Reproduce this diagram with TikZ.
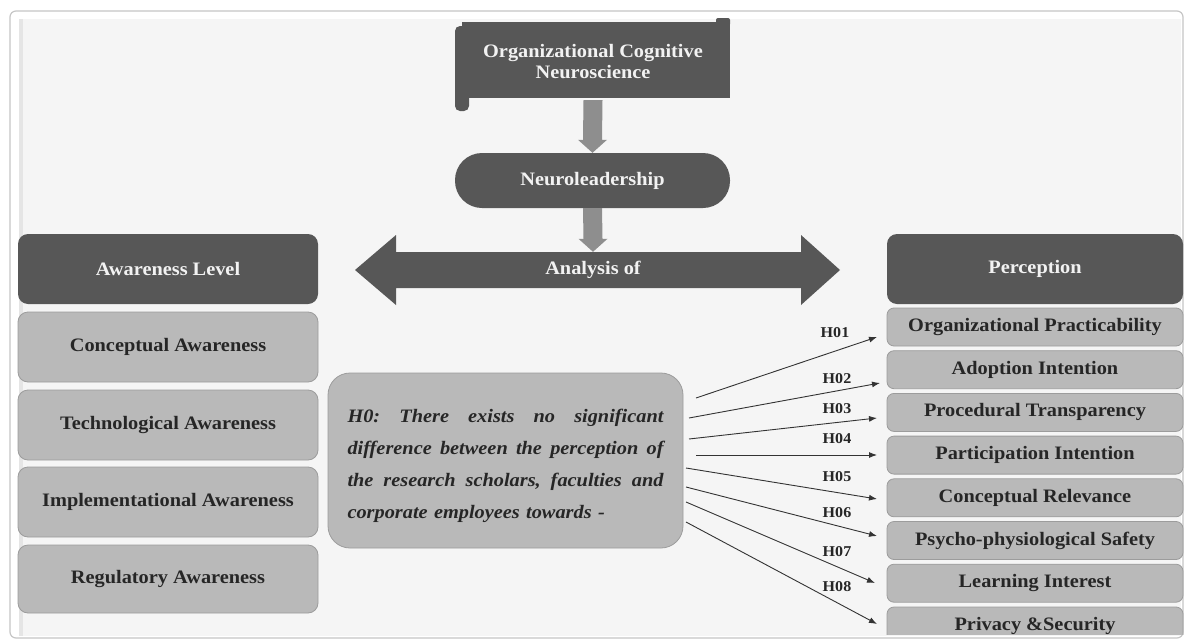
\documentclass[tikz,border=0pt]{standalone}
\usepackage{fontspec}
\setmainfont{Liberation Serif}[FakeStretch=1.07]
\usetikzlibrary{arrows.meta,calc}
\definecolor{darkbox}{HTML}{575757}
\definecolor{lightbox}{HTML}{B9B9B9}
\definecolor{lightedge}{HTML}{9C9C9C}
\definecolor{panel}{HTML}{F5F5F5}
\definecolor{blockarrow}{HTML}{8E8E8E}
\definecolor{linkcol}{HTML}{333333}
\definecolor{textdark}{HTML}{262626}
\definecolor{textlight}{HTML}{F2F2F2}
\definecolor{framecol}{HTML}{C6C6C6}
\newcommand{\gap}{\hspace{0pt plus 1fill}}
\newcommand{\jline}[1]{\leavevmode\hbox to 316pt{#1}}
\begin{document}
\begin{tikzpicture}[x=1pt,y=-1pt,
  bigfont/.style={font=\bfseries\fontsize{19}{21}\selectfont},
  darkhead/.style={rectangle, rounded corners=10, fill=darkbox, draw=none,
    minimum width=300, minimum height=70, text=textlight, bigfont, inner sep=0},
  awbox/.style={rectangle, rounded corners=10, fill=lightbox, draw=lightedge, line width=0.8,
    minimum width=300, minimum height=70, text=textdark, bigfont, inner sep=0},
  pbox/.style={rectangle, rounded corners=7, fill=lightbox, draw=lightedge, line width=0.8,
    minimum width=296, minimum height=38, text=textdark, bigfont, inner sep=0},
  hlabel/.style={font=\bfseries\fontsize{15}{17}\selectfont, text=textdark, inner sep=0},
  link/.style={draw=linkcol, line width=0.9, -{Latex[length=8,width=6]}},
  blockarr/.style={fill=blockarrow, draw=none}
]
\useasboundingbox (0,0) rectangle (1187,643);
\fill[white] (0,0) rectangle (1187,643);
\draw[rounded corners=6, draw=framecol, line width=1.2] (10,11) rectangle (1183,638);
\fill[panel] (19,19) rectangle (1181,636);
\fill[black!10] (19,19) rectangle (23,636);

% top scroll
\fill[darkbox] (462,22) rectangle (730,98);
\fill[darkbox, rounded corners=5] (455,26) rectangle (469,111);
\fill[darkbox, rounded corners=2] (716,18) rectangle (730,26);
\node[minimum width=275, minimum height=76, inner sep=0, text=textlight, bigfont, align=center]
  (ocn) at (593,62) {Organizational Cognitive\\Neuroscience};

% neuroleadership
\node[rectangle, rounded corners=27, fill=darkbox, minimum width=275, minimum height=55,
  inner sep=0, text=textlight, bigfont] (neuro) at (592.5,180.5) {Neuroleadership};

% double arrow
\fill[darkbox] (355,270) -- (396,235) -- (396,252) -- (801,252) -- (801,235) -- (840,270)
  -- (801,305) -- (801,288) -- (396,288) -- (396,305) -- cycle;
\node[minimum width=400, minimum height=36, inner sep=0, text=textlight, bigfont]
  (ana) at (593,270) {Analysis of};

% block arrows
\fill[blockarr] ($(ocn.south)+(-9.5,0)$) -- ($(neuro.north)+(-9.5,-13)$) -- ($(neuro.north)+(-14.5,-13)$)
  -- (neuro.north) -- ($(neuro.north)+(14.5,-13)$) -- ($(neuro.north)+(9.5,-13)$)
  -- ($(ocn.south)+(9.5,0)$) -- cycle;
\fill[blockarr] ($(neuro.south)+(-9.5,0)$) -- ($(ana.north)+(-9.5,-13)$) -- ($(ana.north)+(-14.5,-13)$)
  -- (ana.north) -- ($(ana.north)+(14.5,-13)$) -- ($(ana.north)+(9.5,-13)$)
  -- ($(neuro.south)+(9.5,0)$) -- cycle;

% left column
\node[darkhead] (awl) at (168,269) {Awareness Level};
\node[awbox] (aw1) at (168,347) {Conceptual Awareness};
\node[awbox] (aw2) at (168,425) {Technological Awareness};
\node[awbox] (aw3) at (168,502) {Implementational Awareness};
\node[awbox, minimum height=68] (aw4) at (168,579) {Regulatory Awareness};

% right column
\node[darkhead, minimum width=296] (per) at (1035,269) {Perception};
\node[pbox] (p1) at (1035,327) {Organizational Practicability};
\node[pbox] (p2) at (1035,369.7) {Adoption Intention};
\node[pbox] (p3) at (1035,412.4) {Procedural Transparency};
\node[pbox] (p4) at (1035,455.1) {Participation Intention};
\node[pbox] (p5) at (1035,497.8) {Conceptual Relevance};
\node[pbox] (p6) at (1035,540.5) {Psycho-physiological Safety};
\node[pbox] (p7) at (1035,583.2) {Learning Interest};
\begin{scope}
\clip (880,600) rectangle (1190,634);
\node[pbox] (p8) at (1035,626) {Privacy \&Security};
\end{scope}

% hypothesis box
\node[rectangle, rounded corners=22, fill=lightbox, draw=lightedge, line width=0.8,
  minimum width=355, minimum height=175] (h0) at (505.5,460.5) {};
\node[text width=316, align=left, text=textdark, inner sep=0,
  font=\bfseries\itshape\fontsize{19}{32}\selectfont] (h0text) at ($(h0.center)+(0,5)$)
  {\jline{H0:\gap There\gap exists\gap no\gap significant}\\
   \jline{difference\gap between\gap the\gap perception\gap of}\\
   \jline{the\gap research\gap scholars,\gap faculties\gap and}\\
   corporate employees towards -};

% links
\coordinate (s1) at (696,398); \coordinate (e1) at (877,337);
\coordinate (s2) at (689,418); \coordinate (e2) at (880,383);
\coordinate (s3) at (689,439); \coordinate (e3) at (877,418);
\coordinate (s4) at (696,455); \coordinate (e4) at (877,455);
\coordinate (s5) at (686,468); \coordinate (e5) at (877,499);
\coordinate (s6) at (686,487); \coordinate (e6) at (877,536);
\coordinate (s7) at (686,502); \coordinate (e7) at (875,583);
\coordinate (s8) at (686,522); \coordinate (e8) at (877,624);
\foreach \i in {1,...,8} \draw[link] (s\i) -- (e\i);

\node[hlabel] (l1) at (835,333) {H01};
\node[hlabel] (l2) at (837,379) {H02};
\node[hlabel] (l3) at (837,409) {H03};
\node[hlabel] (l4) at (837,439) {H04};
\node[hlabel] (l5) at (837,477) {H05};
\node[hlabel] (l6) at (837,513) {H06};
\node[hlabel] (l7) at (837,552) {H07};
\node[hlabel] (l8) at (837,587) {H08};
\end{tikzpicture}
\end{document}
